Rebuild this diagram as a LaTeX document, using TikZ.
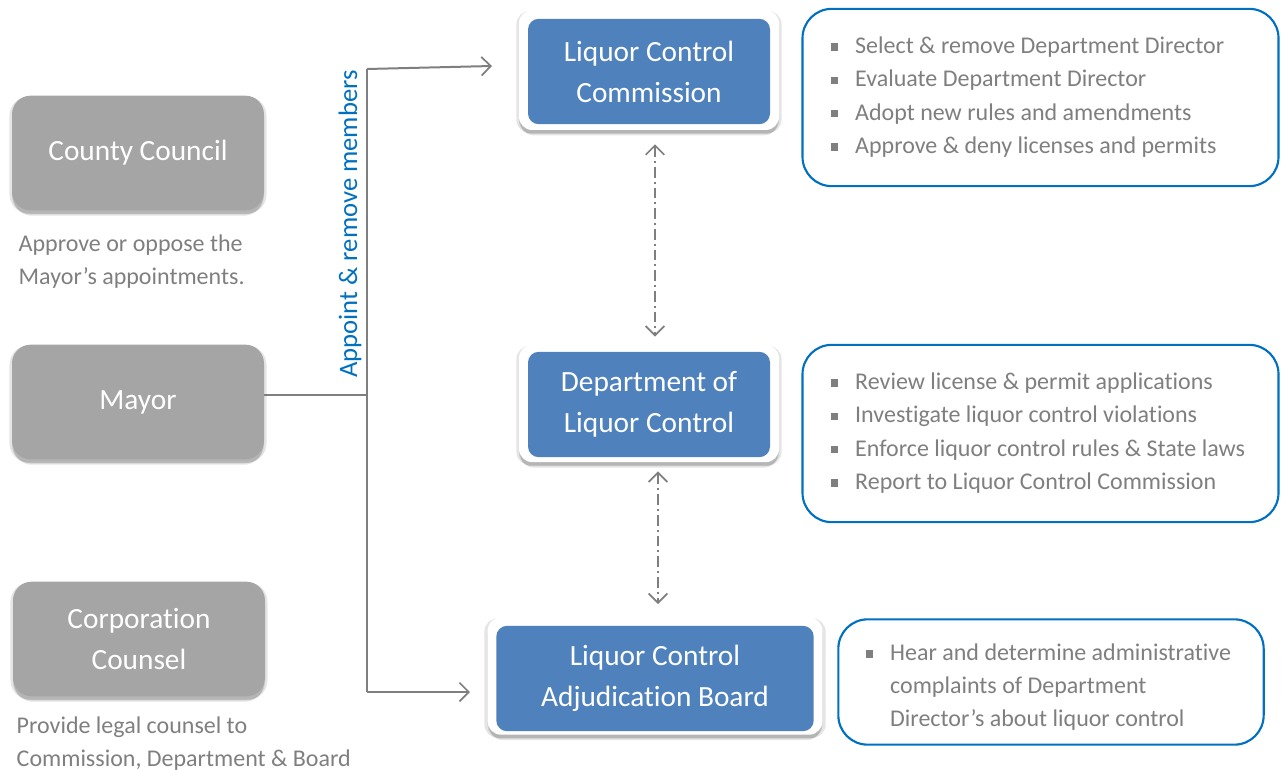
\documentclass[tikz,border=0pt]{standalone}
\usepackage{fontspec}
\setmainfont{Carlito}[Ligatures={NoCommon}]
\usetikzlibrary{shadows,arrows.meta,calc}
\definecolor{boxgray}{HTML}{A5A5A5}
\definecolor{boxblue}{HTML}{4F81BD}
\definecolor{linkblue}{HTML}{0070C0}
\definecolor{txtgray}{HTML}{7F7F7F}
\definecolor{linegray}{HTML}{7F7F7F}
\tikzset{
  softshadow/.style={
    drop shadow={shadow xshift=0pt, shadow yshift=-1.5pt, shadow scale=1.02, opacity=0.10, fill=black},
    drop shadow={shadow xshift=0pt, shadow yshift=-3pt, shadow scale=1.0, opacity=0.12, fill=black},
    drop shadow={shadow xshift=0pt, shadow yshift=-4.5pt, shadow scale=0.99, opacity=0.10, fill=black}},
  graybox/.style={draw=none, fill=boxgray, rounded corners=14pt, text=white,
    minimum width=189pt, minimum height=86pt, align=center,
    font=\fontsize{22}{30.75}\selectfont, softshadow},
  frame/.style={draw=none, fill=white, rounded corners=10pt, softshadow},
  bluebox/.style={draw=none, fill=boxblue, rounded corners=8pt, text=white,
    align=center, font=\fontsize{22}{30.75}\selectfont},
  panel/.style={draw=linkblue, line width=1.6pt, rounded corners=22pt, fill=white},
  note/.style={text=txtgray, align=left, anchor=north west,
    font=\fontsize{18}{24.75}\selectfont},
  bullets/.style={text=txtgray, anchor=north west, align=left,
    font=\fontsize{18}{25}\selectfont},
  conn/.style={draw=linegray, line width=1.5pt},
  tip/.style={-{Straight Barb[length=7pt,width=14pt,line width=1.3pt]}},
  twoway/.style={draw=linegray, line width=1.5pt,
    dash pattern=on 8pt off 3pt on 1.5pt off 3pt,
    {Straight Barb[length=7pt,width=14pt,line width=1.3pt]}-{Straight Barb[length=7pt,width=14pt,line width=1.3pt]}},
}
\newcommand{\sqb}{\textcolor{txtgray}{\rule[0.25ex]{0.3em}{0.3em}}\hspace{0.72em}}
\begin{document}
\begin{tikzpicture}[x=0.75pt,y=-0.75pt]
\useasboundingbox (0,0) rectangle (1281,770);

% left column
\node[graybox] (cc) at (138,153) {County Council};
\node[note] (ccnote) at (14,230) {Approve or oppose the\\Mayor’s appointments.};
\node[graybox] (mayor) at (138,402) {Mayor};
\node[graybox] (corp) at (139,639) {Corporation\\Counsel};
\node[note] (corpnote) at (12,712) {Provide legal counsel to\\Commission, Department \& Board};

% central boxes
\node[frame, minimum width=195pt, minimum height=90pt] (lccframe) at (649,70) {};
\node[bluebox, minimum width=181.5pt, minimum height=79pt] (lcc) at (649,71.5) {Liquor Control\\Commission};
\node[frame, minimum width=195pt, minimum height=88pt] (dlcframe) at (649,403.5) {};
\node[bluebox, minimum width=181.5pt, minimum height=79pt] (dlc) at (649,404.5) {Department of\\Liquor Control};
\node[frame, minimum width=251pt, minimum height=88pt] (lcabframe) at (655,676) {};
\node[bluebox, minimum width=238pt, minimum height=79pt] (lcab) at (655,678.5) {Liquor Control\\Adjudication Board};

% right panels
\node[panel, minimum width=357pt, minimum height=133pt] (p1) at (1040.5,97.5) {};
\node[bullets] (p1t) at (826,32) {\sqb Select \& remove Department Director\\\sqb Evaluate Department Director\\\sqb Adopt new rules and amendments\\\sqb Approve \& deny licenses and permits};
\node[panel, minimum width=357pt, minimum height=133pt] (p2) at (1040.5,433.5) {};
\node[bullets] (p2t) at (826,368) {\sqb Review license \& permit applications\\\sqb Investigate liquor control violations\\\sqb Enforce liquor control rules \& State laws\\\sqb Report to Liquor Control Commission};
\node[panel, minimum width=319pt, minimum height=94pt] (p3) at (1051,682) {};
\node[bullets, font=\fontsize{18}{24.75}\selectfont] (p3t) at (861,639) {\sqb Hear and determine administrative\\\hspace{1.02em}complaints of Department\\\hspace{1.02em}Director’s about liquor control};

% appointment connector
\coordinate (jtop) at (367,69);
\coordinate (jbot) at (367,692);
\coordinate (tipc) at (492,66);
\coordinate (tipb) at (470,692);
\draw[conn] (mayor.east |- 0,395) -- (jtop |- 0,395);
\draw[conn] (jtop) -- (jbot);
\draw[conn,tip] (jtop) -- (tipc);
\draw[conn,tip] (jbot) -- (tipb);
\node[rotate=90, text=linkblue, font=\fontsize{20}{22}\selectfont] (appt) at (350,224) {Appoint \& remove members};

% two-way links between the boards
\draw[twoway] ($(lccframe.south)+(6,14)$) -- ($(dlcframe.north)+(6,-8)$);
\draw[twoway] ($(dlcframe.south)+(9,9)$) -- ($(lcabframe.north)+(3,-13)$);
\end{tikzpicture}
\end{document}
